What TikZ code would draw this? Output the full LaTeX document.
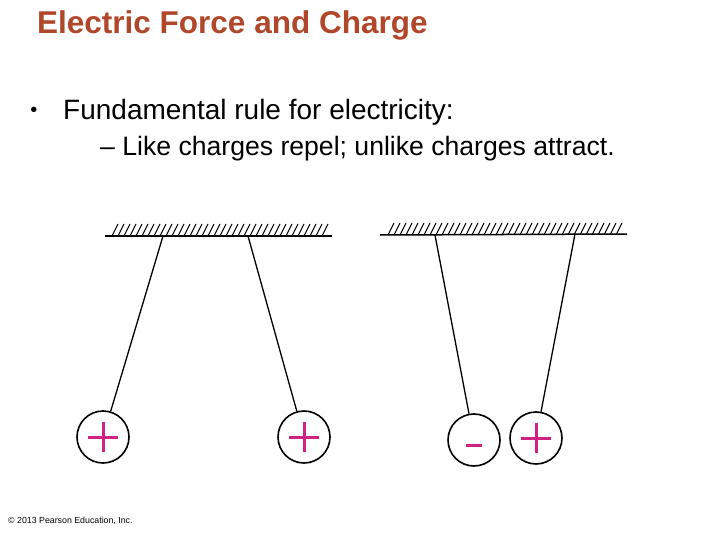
\documentclass[tikz,border=0pt]{standalone}
\usepackage{fontspec}
\setmainfont{Liberation Sans}
\begin{document}
\begin{tikzpicture}[x=1pt,y=-1pt,
  ball/.style={circle,draw,line width=1.6pt,minimum size=52pt,inner sep=0pt},
  str/.style={line width=1.3pt},
  sign/.style={magenta!85!black,line width=3pt}]
\definecolor{titlec}{HTML}{B0472A}
\useasboundingbox (0,0) rectangle (720,540);
\node[anchor=west,text=titlec,font=\bfseries\fontsize{31.5}{36}\selectfont,inner sep=0pt] (title) at (37,25) {Electric Force and Charge};
\node[font=\fontsize{20}{24}\selectfont,inner sep=0pt] (bul) at (34,112) {•};
\node[anchor=west,font=\fontsize{28}{32}\selectfont,inner sep=0pt] (b1) at (63,112) {Fundamental rule for electricity:};
\node[anchor=west,font=\fontsize{26.6}{32}\selectfont,inner sep=0pt] (b2) at (100,149) {– Like charges repel; unlike charges attract.};
% ceilings
\draw[line width=1.5pt] (105,236) -- (332,236);
\foreach \x in {112,118,...,326} \draw[line width=1.1pt] (\x,236) -- (\x+6,224);
\draw[line width=1.5pt] (380,235) -- (627,234);
\foreach \x in {388,394,...,620} \draw[line width=1.1pt] (\x,235) -- (\x+6,223);
% balls
\node[ball] (p1) at (103,437) {};
\node[ball] (p2) at (304,437) {};
\node[ball] (m3) at (474,440) {};
\node[ball] (p4) at (536,438) {};
\coordinate (t1) at (163,236);
\coordinate (t2) at (248,236);
\coordinate (t3) at (435,235);
\coordinate (t4) at (575,234);
\draw[str] (t1) -- (p1);
\draw[str] (t2) -- (p2);
\draw[str] (t3) -- (m3);
\draw[str] (t4) -- (p4);
\foreach \n in {p1,p2,p4}{
  \draw[sign] ([xshift=-15pt]\n.center) -- ([xshift=15pt]\n.center);
  \draw[sign] ([yshift=-15pt]\n.center) -- ([yshift=15pt]\n.center);}
\draw[sign] ([xshift=-8pt,yshift=-5pt]m3.center) -- ([xshift=8pt,yshift=-5pt]m3.center);
\node[anchor=west,font=\fontsize{8.8}{10}\selectfont,inner sep=0pt] (cp) at (8,521) {© 2013 Pearson Education, Inc.};
\end{tikzpicture}
\end{document}
